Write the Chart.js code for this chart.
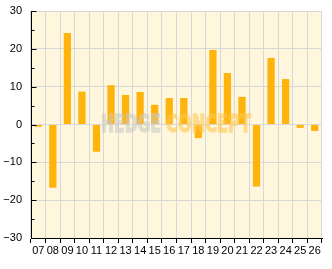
<!DOCTYPE html>
<html>
<head>
<meta charset="utf-8">
<script src="https://cdn.jsdelivr.net/npm/chart.js@4"></script>
<style>
html, body { margin: 0; padding: 0; background: #fff; }
#wrap { width: 332px; height: 269px; position: relative; }
</style>
</head>
<body>
<div id="wrap"><canvas id="chart"></canvas></div>
<script>
var labels = ["07", "08", "09", "10", "11", "12", "13", "14", "15", "16", "17", "18", "19", "20", "21", "22", "23", "24", "25", "26"];
var values = [-0.6, -16.7, 24.2, 8.7, -7.2, 10.4, 7.8, 8.6, 5.2, 7.0, 7.0, -3.6, 19.7, 13.6, 7.3, -16.4, 17.6, 12.0, -0.9, -1.7];
var yMin = -30;
var yMax = 30;

// plot background, watermark on top of the bars, small inner ticks on the y axis
var deco = {
	id: 'deco',
	beforeDraw: function (chart) {
		var a = chart.chartArea;
		var ctx = chart.ctx;
		ctx.save();
		ctx.fillStyle = '#FFF6DE';
		ctx.fillRect(a.left, a.top, a.right - a.left, a.bottom - a.top);
		ctx.restore();
	},
	afterDatasetsDraw: function (chart) {
		var ctx = chart.ctx;
		// draw the text opaque on a scratch canvas, then lay it down see-through
		var off = document.createElement('canvas');
		off.width = chart.width;
		off.height = chart.height;
		var o = off.getContext('2d');
		o.font = 'bold 25px "DejaVu Sans"';
		o.textBaseline = 'alphabetic';
		o.lineJoin = 'miter';
		var parts = [["HEDGE", 101, 60, '#CACAC4'], ["CONCEPT", 166, 85, '#FFC850']];
		for (var i = 0; i < parts.length; i++) {
			var p = parts[i];
			var w = o.measureText(p[0]).width;
			o.save();
			o.translate(p[1], 132);
			o.scale(p[2] / w, 1);
			o.fillStyle = p[3];
			o.strokeStyle = p[3];
			o.lineWidth = 1.4;
			o.fillText(p[0], 0, 0);
			o.strokeText(p[0], 0, 0);
			o.restore();
		}
		ctx.save();
		ctx.globalAlpha = 0.6;
		ctx.drawImage(off, 0, 0, chart.width, chart.height);
		ctx.restore();
	},
	afterDraw: function (chart) {
		var ctx = chart.ctx;
		var ys = chart.scales.y;
		var x0 = Math.round(chart.chartArea.left) + 0.5;
		ctx.save();
		ctx.strokeStyle = '#000';
		ctx.lineWidth = 1;
		for (var v = yMin; v <= yMax; v += 5) {
			var y = Math.round(ys.getPixelForValue(v)) + 0.5;
			var len = (v % 10 === 0) ? 5 : 3;
			ctx.beginPath();
			ctx.moveTo(x0, y);
			ctx.lineTo(x0 + len, y);
			ctx.stroke();
		}
		ctx.restore();
	}
};

var ctx = document.getElementById('chart').getContext('2d');
new Chart(ctx, {
	type: 'bar',
	data: {
		labels: labels,
		datasets: [{
			data: values,
			backgroundColor: '#FFB30D',
			borderWidth: 0,
			barPercentage: 0.5,
			categoryPercentage: 1.0
		}]
	},
	options: {
		responsive: true,
		maintainAspectRatio: false,
		animation: false,
		layout: { padding: { top: 11, right: 10, left: 0, bottom: 0 } },
		plugins: {
			legend: { display: false },
			tooltip: { enabled: false }
		},
		scales: {
			x: {
				offset: true,
				grid: { offset: true, color: '#D8D8D8', tickColor: '#000', tickLength: 5 },
				border: { color: '#000', width: 1 },
				ticks: {
					autoSkip: false, maxRotation: 0, minRotation: 0, padding: 1,
					color: '#000', font: { family: 'Liberation Sans', size: 11 }
				},
				afterFit: function (s) { s.height = 31; }
			},
			y: {
				min: yMin,
				max: yMax,
				grid: { color: '#D8D8D8', drawTicks: false },
				border: { color: '#000', width: 1 },
				ticks: {
					stepSize: 10, padding: 9, color: '#000',
					font: { family: 'Liberation Sans', size: 11 },
					callback: function (v) { return v < 0 ? '\u2212' + Math.abs(v) : String(v); }
				},
				afterFit: function (s) {
					s.width = 31;
					s.paddingTop = 11;
					s.paddingBottom = 0;
				}
			}
		}
	},
	plugins: [deco]
});
</script>
</body>
</html>
